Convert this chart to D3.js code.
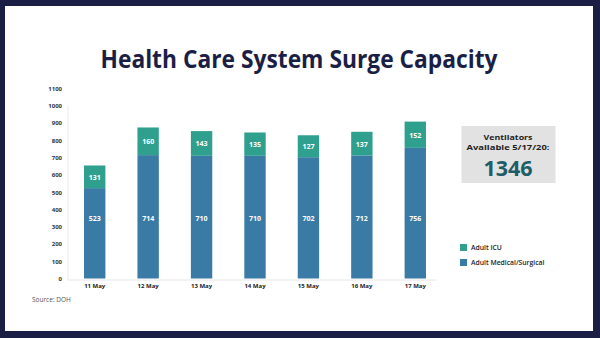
<!DOCTYPE html>
<html>
<head>
<meta charset="utf-8">
<script src="https://cdn.jsdelivr.net/npm/d3@7"></script>
<style>
  body { margin: 0; background: #1c1f45; }
  svg { display: block; }
  text { font-family: "Open Sans", sans-serif; }
</style>
</head>
<body>
<svg id="chart" width="600" height="338"></svg>
<script>
// chart data
var days = ["11 May", "12 May", "13 May", "14 May", "15 May", "16 May", "17 May"];
var medSurg = [523, 714, 710, 710, 702, 712, 756];
var icu = [131, 160, 143, 135, 127, 137, 152];
var yTicks = [0, 100, 200, 300, 400, 500, 600, 700, 800, 900, 1000, 1100];
var seriesNames = ["Adult ICU", "Adult Medical/Surgical"];
var ventTitle = ["Ventilators", "Available 5/17/20:"];
var ventValue = 1346;

var navy = "#1c1f45";
var teal = "#2f9f8e";
var blue = "#3a7ba6";

var svg = d3.select("#chart");

// white panel inside the navy frame
svg.append("rect")
    .attr("x", 5).attr("y", 6)
    .attr("width", 588).attr("height", 325)
    .attr("fill", "#fff");

svg.append("text")
    .attr("x", 299).attr("y", 68)
    .attr("text-anchor", "middle")
    .attr("font-size", 25)
    .attr("font-weight", 700)
    .attr("fill", navy)
    .attr("textLength", 397)
    .attr("lengthAdjust", "spacingAndGlyphs")
    .text("Health Care System Surge Capacity");

var x = d3.scaleBand()
    .domain(days)
    .range([68, 442])
    .paddingInner(0.6)
    .paddingOuter(0.3);

var y = d3.scaleLinear()
    .domain([0, 1000])
    .range([278.5, 105.7]);

// y axis labels
var yAxis = d3.axisLeft(y).tickValues(yTicks).tickFormat(d3.format("d"))
    .tickSize(0).tickPadding(0);
var yg = svg.append("g")
    .attr("transform", "translate(62,0)")
    .call(yAxis);
yg.select(".domain").remove();
yg.selectAll("text")
    .attr("font-size", 6)
    .attr("font-weight", 700)
    .attr("fill", "#333")
    .attr("font-family", "Open Sans, sans-serif");

// faint axis lines
svg.append("line")
    .attr("x1", 68).attr("x2", 68)
    .attr("y1", y(1000)).attr("y2", y(0) + 1.5)
    .attr("stroke", "#ececec").attr("stroke-width", 1);
svg.append("line")
    .attr("x1", 68).attr("x2", 436)
    .attr("y1", y(0) + 1.5).attr("y2", y(0) + 1.5)
    .attr("stroke", "#e6e6e6").attr("stroke-width", 1);

var rows = days.map(function (d, i) {
    return { day: d, med: medSurg[i], icu: icu[i] };
});

var bars = svg.append("g").selectAll("g")
    .data(rows)
    .enter().append("g");

bars.append("rect")
    .attr("x", function (d) { return x(d.day); })
    .attr("width", x.bandwidth())
    .attr("y", function (d) { return y(d.med); })
    .attr("height", function (d) { return y(0) - y(d.med); })
    .attr("fill", blue);

bars.append("rect")
    .attr("x", function (d) { return x(d.day); })
    .attr("width", x.bandwidth())
    .attr("y", function (d) { return y(d.med + d.icu); })
    .attr("height", function (d) { return y(d.med) - y(d.med + d.icu); })
    .attr("fill", teal);

// value labels
bars.append("text")
    .attr("x", function (d) { return x(d.day) + x.bandwidth() / 2; })
    .attr("y", function (d) { return y(350) + 2.5; })
    .attr("text-anchor", "middle")
    .attr("font-size", 7)
    .attr("font-weight", 700)
    .attr("fill", "#fff")
    .text(function (d) { return d.med; });

bars.append("text")
    .attr("x", function (d) { return x(d.day) + x.bandwidth() / 2; })
    .attr("y", function (d) { return y(d.med + d.icu / 2) + 3; })
    .attr("text-anchor", "middle")
    .attr("font-size", 7)
    .attr("font-weight", 700)
    .attr("fill", "#fff")
    .text(function (d) { return d.icu; });

// x axis labels
var xAxis = d3.axisBottom(x).tickSize(0).tickPadding(0);
var xg = svg.append("g")
    .attr("transform", "translate(0," + (y(0) + 5) + ")")
    .call(xAxis);
xg.select(".domain").remove();
xg.selectAll("text")
    .attr("font-size", 6)
    .attr("font-weight", 700)
    .attr("fill", "#222")
    .attr("font-family", "Open Sans, sans-serif");

svg.append("text")
    .attr("x", 32).attr("y", 302)
    .attr("font-size", 6.5)
    .attr("fill", "#555")
    .text("Source: DOH");

// ventilator box
svg.append("rect")
    .attr("x", 461.5).attr("y", 126)
    .attr("width", 94).attr("height", 57)
    .attr("fill", "#e2e2e2");

var ventWidths = [49, 83];
svg.selectAll(".vt")
    .data(ventTitle)
    .enter().append("text")
    .attr("class", "vt")
    .attr("x", 508)
    .attr("y", function (d, i) { return 139.5 + i * 10.6; })
    .attr("text-anchor", "middle")
    .attr("font-size", 7.8)
    .attr("font-weight", 700)
    .attr("fill", "#1e1e1e")
    .attr("textLength", function (d, i) { return ventWidths[i]; })
    .attr("lengthAdjust", "spacingAndGlyphs")
    .text(function (d) { return d; });

svg.append("text")
    .attr("x", 508).attr("y", 176)
    .attr("text-anchor", "middle")
    .attr("font-size", 21.5)
    .attr("font-weight", 700)
    .attr("fill", "#1e5d68")
    .text(ventValue);

// legend
var color = d3.scaleOrdinal().domain(seriesNames).range([teal, blue]);
var lg = svg.append("g").selectAll("g")
    .data(seriesNames)
    .enter().append("g")
    .attr("transform", function (d, i) { return "translate(460," + (244 + i * 15) + ")"; });
lg.append("rect")
    .attr("width", 7).attr("height", 7)
    .attr("fill", function (d) { return color(d); });
lg.append("text")
    .attr("x", 11).attr("y", 6)
    .attr("font-size", 6.8)
    .attr("font-weight", 600)
    .attr("fill", "#222")
    .text(function (d) { return d; });
</script>
</body>
</html>
